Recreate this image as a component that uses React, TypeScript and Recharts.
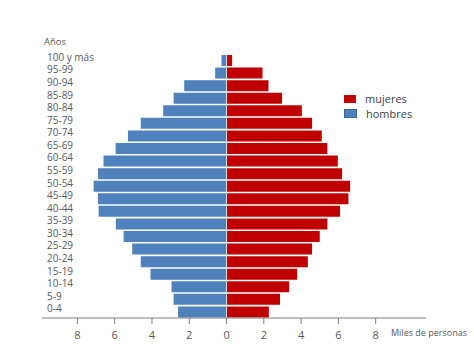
import React from "react";
import { BarChart, Bar, XAxis, YAxis, ReferenceLine } from "recharts";

const ageGroups = [
  "100 y más", "95-99", "90-94", "85-89", "80-84", "75-79", "70-74",
  "65-69", "60-64", "55-59", "50-54", "45-49", "40-44", "35-39",
  "30-34", "25-29", "20-24", "15-19", "10-14", "5-9", "0-4",
];
const hombres = [
  0.27, 0.61, 2.27, 2.84, 3.4, 4.6, 5.29, 5.95, 6.6, 6.9, 7.13, 6.9, 6.86,
  5.94, 5.52, 5.06, 4.6, 4.08, 2.95, 2.84, 2.6,
];
const mujeres = [
  0.3, 1.93, 2.25, 2.98, 4.04, 4.59, 5.11, 5.41, 5.97, 6.2, 6.63, 6.54, 6.09,
  5.41, 5.0, 4.59, 4.36, 3.79, 3.36, 2.87, 2.27,
];
const xTicks = [-8, -6, -4, -2, 0, 2, 4, 6, 8];

const data = ageGroups.map((g, i) => ({
  group: g,
  hombres: -hombres[i],
  mujeres: mujeres[i],
}));

const FONT = "'Open Sans', sans-serif";
const BLUE = "#4f81bd";
const RED = "#c00000";

const renderYTick = (props: any) => {
  const { y, payload } = props;
  return (
    <text key={payload.value} x={47} y={y - 3} dy="0.35em" textAnchor="start" fontSize={10} fontFamily={FONT} fill="#595959">
      {payload.value}
    </text>
  );
};

export default function App() {
  return (
    <div style={{ position: "absolute", left: 0, top: 0, width: 474, height: 355, background: "#fff" }}>
      <BarChart
        width={474}
        height={355}
        data={data}
        layout="vertical"
        stackOffset="sign"
        barCategoryGap={1}
        margin={{ top: 54, right: 48, left: 41, bottom: 0 }}
      >
        <XAxis
          type="number"
          domain={[-9.9, 10.7]}
          allowDataOverflow
          ticks={xTicks}
          tickFormatter={(v: number) => String(Math.abs(v))}
          height={37}
          tickSize={6}
          tickMargin={7}
          axisLine={{ stroke: "#7f7f7f" }}
          tickLine={{ stroke: "#7f7f7f" }}
          tick={{ fontSize: 11, fontFamily: FONT, fill: "#595959" }}
        />
        <YAxis
          type="category"
          dataKey="group"
          width={1}
          axisLine={false}
          tickLine={false}
          interval={0}
          tick={renderYTick}
        />
        <Bar dataKey="hombres" stackId="a" fill={BLUE} isAnimationActive={false} />
        <Bar dataKey="mujeres" stackId="a" fill={RED} isAnimationActive={false} />
        <ReferenceLine x={0} stroke="#d0dcec" strokeWidth={1} />
      </BarChart>
      <div style={{ position: "absolute", left: 44, top: 37, fontSize: 9.5, lineHeight: "10px", fontFamily: FONT, color: "#595959" }}>Años</div>
      <div style={{ position: "absolute", left: 344, top: 91, fontFamily: FONT, fontSize: 11, color: "#404040", lineHeight: "15px" }}>
        <div style={{ display: "flex", alignItems: "center" }}>
          <span style={{ display: "inline-block", width: 12, height: 8, background: RED, marginRight: 9 }} />
          <span>mujeres</span>
        </div>
        <div style={{ display: "flex", alignItems: "center" }}>
          <span style={{ display: "inline-block", width: 11, height: 7, background: BLUE, border: "0.5px solid #3a6597", marginRight: 9 }} />
          <span>hombres</span>
        </div>
      </div>
      <div style={{ position: "absolute", left: 391, top: 326, fontSize: 9, fontFamily: FONT, color: "#595959", whiteSpace: "nowrap" }}>Miles de personas</div>
    </div>
  );
}
